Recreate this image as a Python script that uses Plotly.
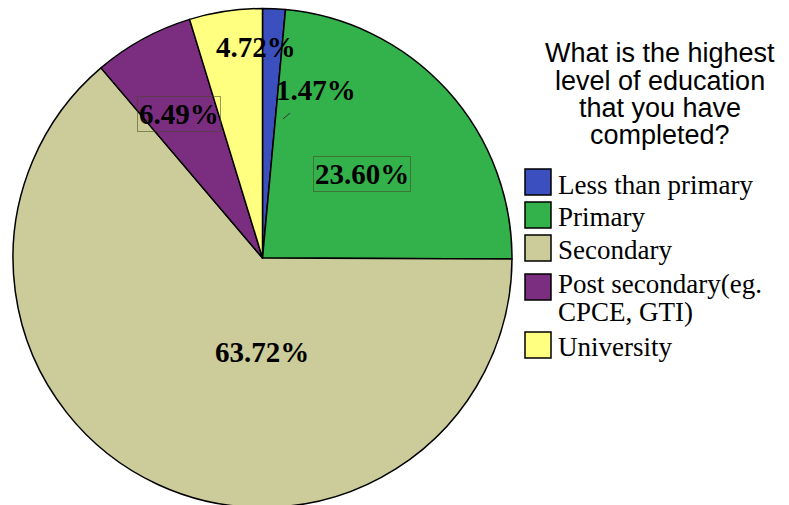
import plotly.graph_objects as go

labels = ["Less than primary", "Primary", "Secondary", "Post secondary(eg.<br>CPCE, GTI)", "University"]
values = [1.47, 23.60, 63.72, 6.49, 4.72]
colors = ["#3B50BE", "#33B24B", "#CCCC9A", "#7B2D80", "#FFFF80"]
title_lines = ["What is the highest", "level of education", "that you have", "completed?"]

W, H = 789, 510

def px(x):
    return x / W

def py(y):
    return 1 - y / H

fig = go.Figure()
fig.add_trace(go.Pie(
    labels=labels, values=values, sort=False, direction="clockwise", rotation=0,
    marker=dict(colors=colors, line=dict(color="black", width=1.5)),
    textinfo="none", hoverinfo="label+percent", showlegend=False,
    domain=dict(x=[px(13), px(512)], y=[py(508), py(8)]),
))

# value labels (position in px, boxed or not)
label_pos = [(316, 90, False), (362, 174, True), (262, 352, False), (179, 114, True), (256, 47, False)]
annotations = []
for v, (x, y, boxed) in zip(values, label_pos):
    annotations.append(dict(
        x=px(x), y=py(y), xref="paper", yref="paper", showarrow=False,
        xanchor="center", yanchor="middle",
        text=f"<b>{v:.2f}%</b>",
        font=dict(family="Liberation Serif", size=29, color="black"),
        bordercolor="rgba(70,70,40,0.55)" if boxed else "rgba(0,0,0,0)",
        borderwidth=1, borderpad=1,
    ))

# legend title, one annotation per line
for i, line in enumerate(title_lines):
    annotations.append(dict(
        x=px(660), y=py(53 + 27.5 * i), xref="paper", yref="paper", showarrow=False,
        xanchor="center", yanchor="middle", text=line,
        font=dict(family="Liberation Sans", size=27, color="black"),
    ))

# custom legend
sw_y = [182, 215, 248, 287, 345]
txt_y = [185, 217, 250, 284, 347]
shapes = []
for lab, col, sy, ty in zip(labels, colors, sw_y, txt_y):
    shapes.append(dict(type="rect", xref="paper", yref="paper",
                       x0=px(525), x1=px(551), y0=py(sy + 13), y1=py(sy - 13),
                       fillcolor=col, line=dict(color="black", width=1.5)))
    for j, part in enumerate(lab.split("<br>")):
        annotations.append(dict(
            x=px(556), y=py(ty + 28 * j), xref="paper", yref="paper", showarrow=False,
            xanchor="left", yanchor="middle", align="left", text=part,
            font=dict(family="Liberation Serif", size=27, color="black"),
        ))

# small leader line of the 1.47% label
shapes.append(dict(type="line", xref="paper", yref="paper",
                   x0=px(283), y0=py(119), x1=px(290), y1=py(113),
                   line=dict(color="#333333", width=1)))

fig.update_layout(
    width=W, height=H, margin=dict(l=0, r=0, t=0, b=0),
    paper_bgcolor="white", plot_bgcolor="white",
    annotations=annotations, shapes=shapes,
)

fig.write_html("out.html",
               post_script="document.documentElement.style.overflow='hidden';document.body.style.overflow='hidden';")
